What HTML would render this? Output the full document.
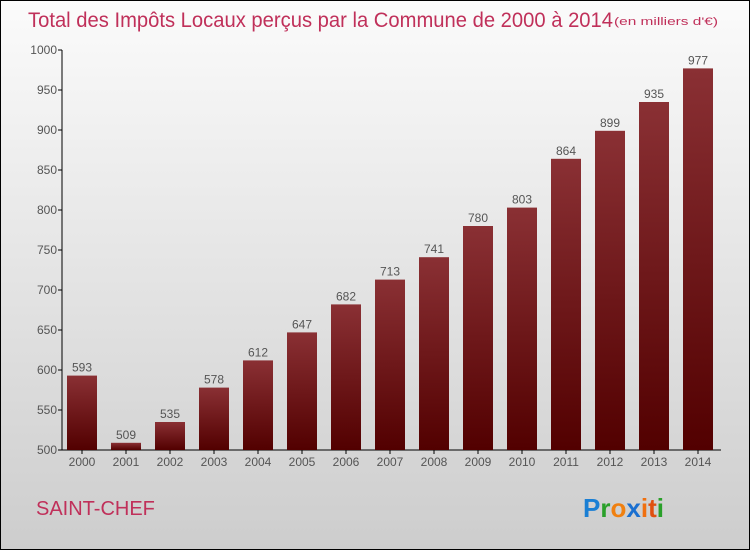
<!DOCTYPE html>
<html><head><meta charset="utf-8"><style>
body{margin:0}
#c{width:750px;height:550px;position:relative;box-sizing:border-box;border:1px solid #000;background:linear-gradient(#fbfbfb,#cdcdcd);font-family:"Liberation Sans",sans-serif;overflow:hidden}
</style></head><body>
<div id="c">
<svg width="750" height="550" style="position:absolute;left:-1px;top:-1px">
<defs><linearGradient id="bg" x1="0" x2="0" y1="0" y2="1"><stop offset="0" stop-color="#8a3034"/><stop offset="1" stop-color="#520000"/></linearGradient></defs>
<text x="28" y="27" font-size="21" fill="#c0305a" textLength="585" lengthAdjust="spacingAndGlyphs">Total des Impôts Locaux perçus par la Commune de 2000 à 2014</text>
<text x="614" y="25" font-size="11" fill="#c0305a" textLength="104" lengthAdjust="spacingAndGlyphs">(en milliers d'€)</text>
<g id="plot"></g>
<text x="36" y="515" font-size="20" fill="#c0305a">SAINT-CHEF</text>
<text x="583" y="517" font-size="26" font-weight="bold"><tspan fill="#1a7fd4">P</tspan><tspan fill="#2aa02a">r</tspan><tspan fill="#f08010">o</tspan><tspan fill="#1a6fd0">x</tspan><tspan fill="#f07010">i</tspan><tspan fill="#e05010">t</tspan><tspan fill="#2aa02a">i</tspan></text>
</svg>
</div>
<script>
const years=["2000","2001","2002","2003","2004","2005","2006","2007","2008","2009","2010","2011","2012","2013","2014"];
const values=[593,509,535,578,612,647,682,713,741,780,803,864,899,935,977];
const ticks=[500,550,600,650,700,750,800,850,900,950,1000];
const NS="http://www.w3.org/2000/svg",g=document.getElementById('plot');
const y=v=>450-(v-500)*0.8, x=i=>82+i*44;
function mk(t,a){const e=document.createElementNS(NS,t);for(const k in a)e.setAttribute(k,a[k]);g.appendChild(e);return e;}
let e=mk('line',{x1:62,x2:62,y1:50,y2:450,stroke:'#000'});


e=mk('line',{x1:62,x2:721,y1:450,y2:450,stroke:'#000'});


ticks.forEach(t=>{
 mk('line',{x1:58,x2:62,y1:y(t),y2:y(t),stroke:'#000'});
 e=mk('text',{x:57,y:y(t)+4,'font-size':12,fill:'#555','text-anchor':'end'});e.textContent=t;
 
 
});
years.forEach((yr,i)=>{
 e=mk('rect',{x:x(i)-15,y:y(values[i]),width:30,height:450-y(values[i]),fill:'url(#bg)'});
 
 
 e=mk('text',{x:x(i),y:y(values[i])-4,'font-size':12,fill:'#555','text-anchor':'middle'});e.textContent=values[i];
 
 
 mk('line',{x1:x(i),x2:x(i),y1:450,y2:454,stroke:'#000'});
 e=mk('text',{x:x(i),y:466,'font-size':12,fill:'#555','text-anchor':'middle'});e.textContent=yr;
 
 
});
</script>
</body></html>
